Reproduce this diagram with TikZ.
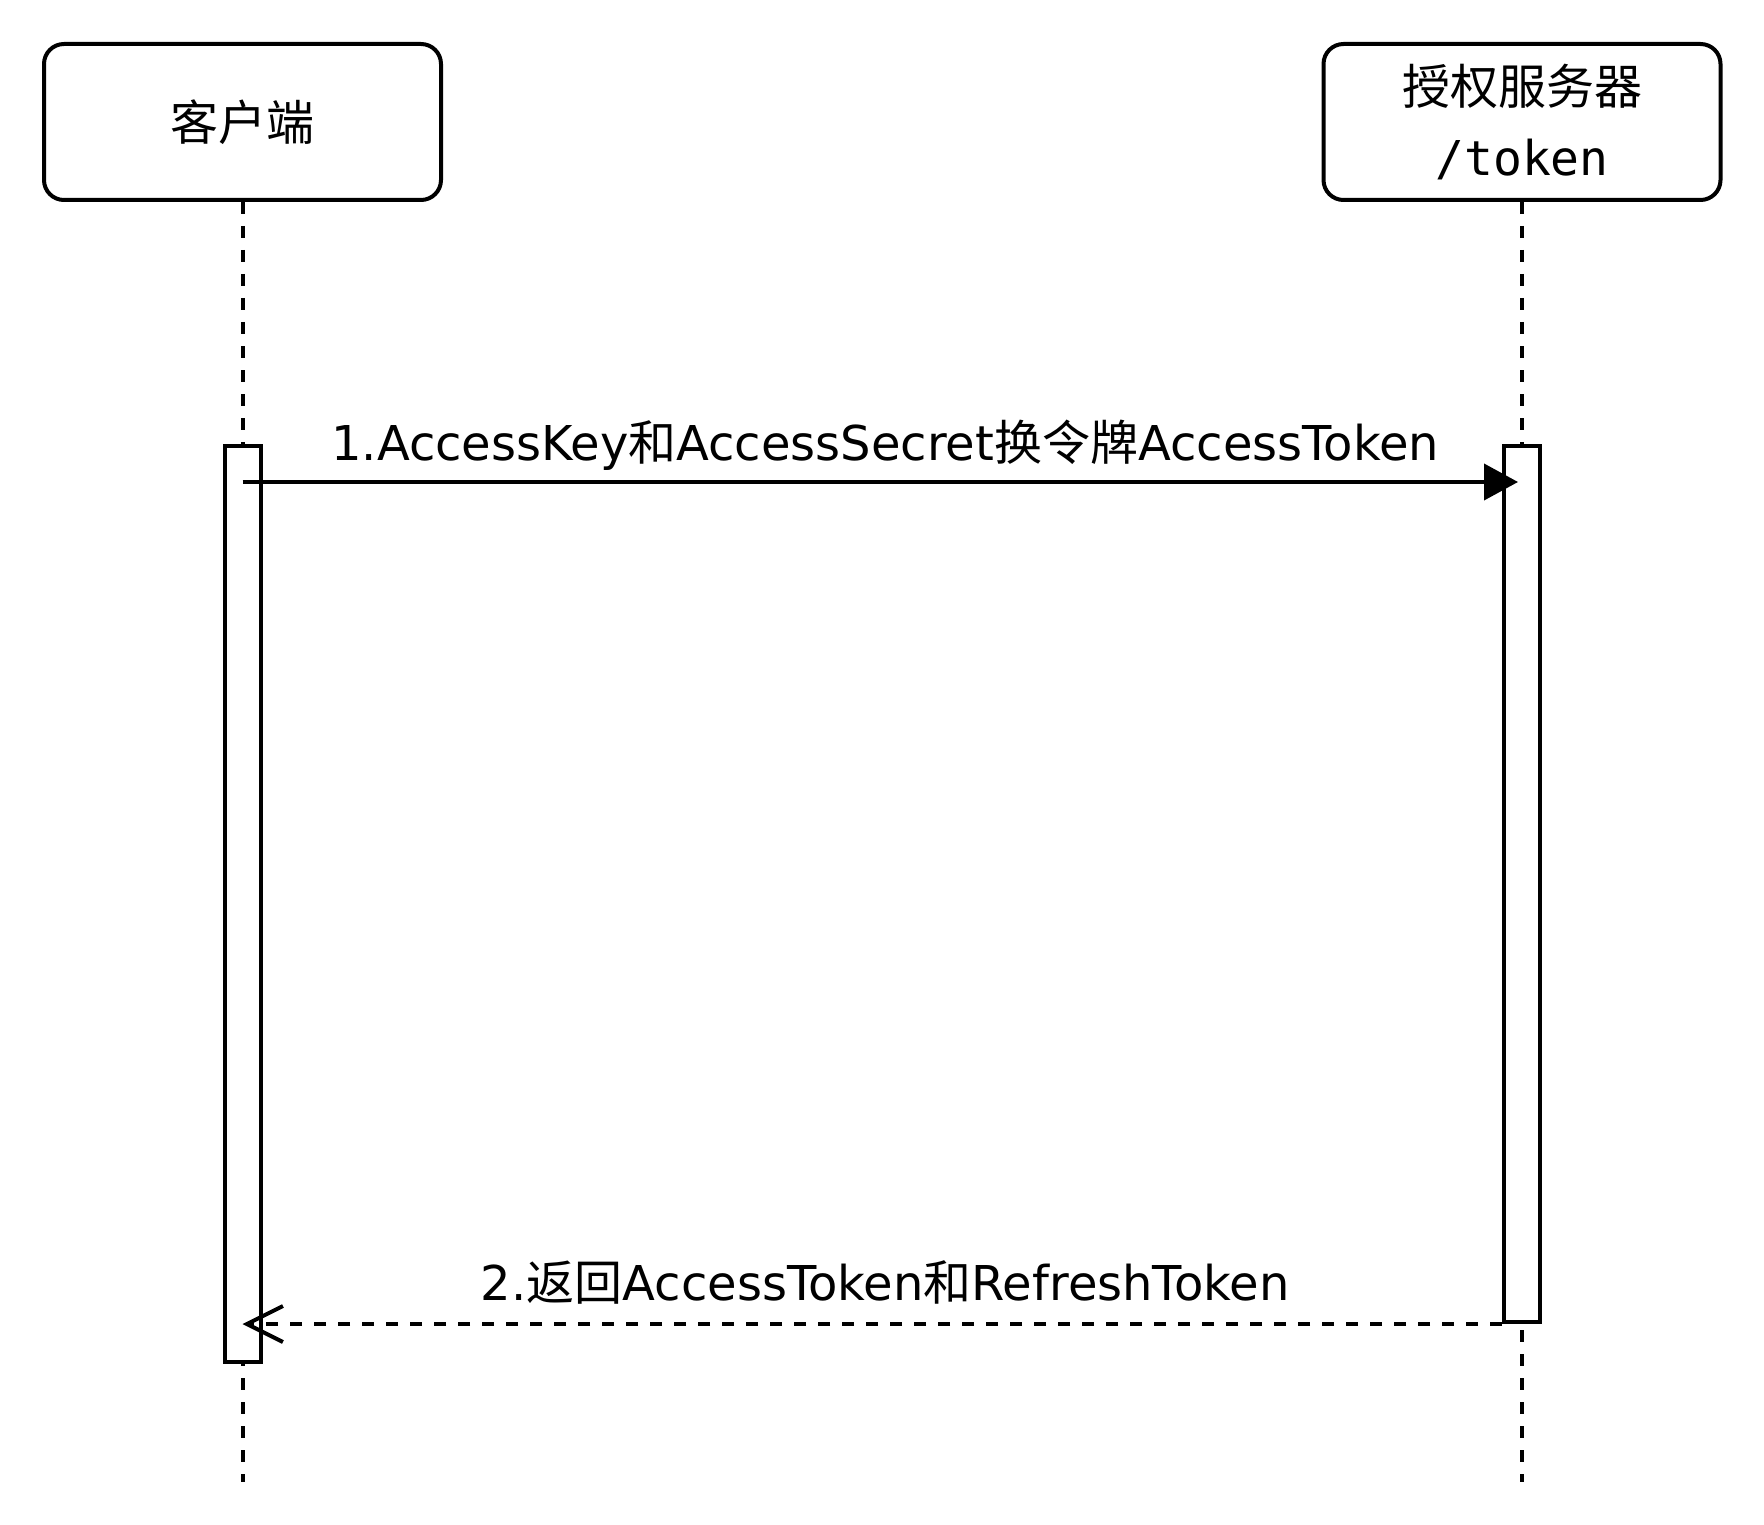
\documentclass[tikz,border=0pt]{standalone}
\usepackage{fontspec}
\setmainfont{DejaVu Sans}
\setmonofont{DejaVu Sans Mono}
\newfontfamily\cjk{Noto Sans CJK SC}
\usetikzlibrary{positioning,arrows.meta,calc}
\newcommand{\zh}[1]{{\cjk #1}}
\tikzset{
  actor/.style={draw=black,line width=2pt,rounded corners=10pt,
    minimum width=198.5pt,minimum height=78pt,inner sep=0pt,align=center,
    font=\fontsize{24}{35.5}\selectfont},
  actbar/.style={draw=black,fill=white,line width=2pt,minimum width=18pt,
    inner sep=0pt,anchor=north},
  lifeline/.style={line width=2pt,dash pattern=on 6pt off 6pt},
  msg/.style={-{Triangle[length=17pt,width=18pt]},line width=2pt,
    shorten >=2pt},
  reply/.style={-{Straight Barb[length=18pt,width=18pt]},line width=2pt,
    dash pattern=on 6pt off 6pt},
  msglbl/.style={font=\fontsize{24}{28}\selectfont,anchor=base,inner sep=0pt},
}
\begin{document}
\begin{tikzpicture}[x=0.5pt,y=-0.5pt]
  \useasboundingbox (0,0) rectangle (1764,1524);
  \node[actor] (cli) at (242.5,122) {\zh{客户端}};
  \node[actor] (srv) at (1522,122) {\zh{授权服务器}\\\texttt{/token}};
  \coordinate (cliend) at (242.5,1482);
  \coordinate (srvend) at (1522,1482);
  \draw[lifeline] (cli.south) -- (cliend);
  \draw[lifeline] (srv.south) -- (srvend);
  \node[actbar,minimum height=458pt] (clibar) at (242.5,444) {};
  \node[actbar,minimum height=438pt] (srvbar) at (1522,444) {};
  % request
  \coordinate (req) at ($(clibar.north)+(0,38)$);
  \coordinate (reqend) at (req -| srvbar.north);
  \draw[msg] (req) -- (reqend);
  \node[msglbl] (reqlbl) at ($(req)!0.5!(reqend)+(3,-22)$)
    {1.AccessKey\zh{和}AccessSecret\zh{换令牌}AccessToken};
  % reply
  \coordinate (rep) at (srvbar.south west);
  \coordinate (repend) at (rep -| clibar.north);
  \draw[reply] (rep) -- (repend);
  \node[msglbl] (replbl) at ($(reqlbl.base)+(0,840)$)
    {2.\zh{返回}AccessToken\zh{和}RefreshToken};
\end{tikzpicture}
\end{document}
